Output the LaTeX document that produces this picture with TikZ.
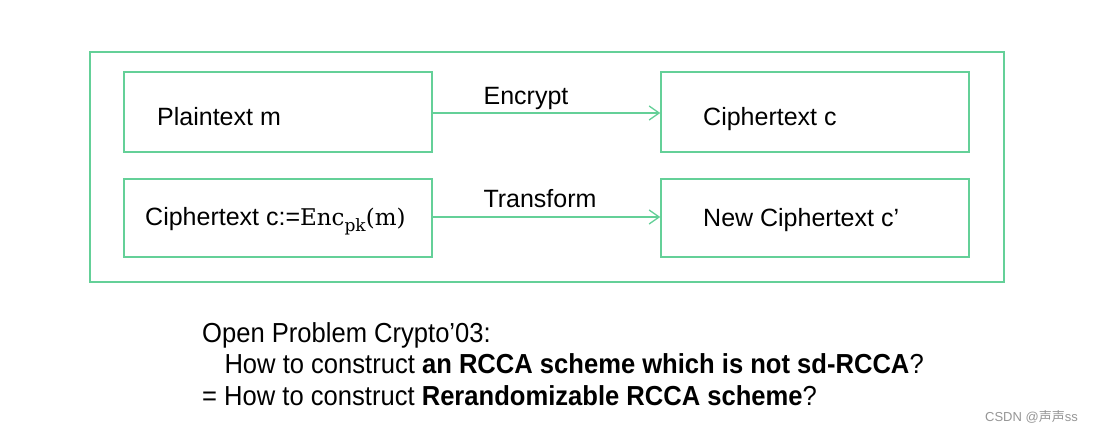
\documentclass[tikz,border=0pt]{standalone}
\usepackage{fontspec}
\setmainfont{Liberation Sans}
\newfontfamily\cjkfont{Noto Sans CJK SC}
\newfontfamily\serifenc{DejaVu Serif}
\usetikzlibrary{arrows.meta}
\definecolor{lgreen}{RGB}{100,208,152}
\definecolor{wmgray}{RGB}{150,150,150}
\tikzset{
  box/.style={draw=lgreen, line width=1.5pt, minimum width=308pt, minimum height=80pt, inner sep=0pt},
  boxtext/.style={font=\fontsize{25}{30}\selectfont, anchor=base west, inner sep=0pt},
  conn/.style={draw=lgreen, line width=1.3pt, -{Straight Barb[length=10pt,width=14pt,line width=1.3pt]}},
  lbl/.style={font=\fontsize{25}{30}\selectfont, inner sep=0pt, anchor=base}
}
\begin{document}
\begin{tikzpicture}[x=1pt,y=-1pt]
\useasboundingbox[fill=white] (0,0) rectangle (1093,434);
\node[draw=lgreen, line width=1.5pt, minimum width=914pt, minimum height=230pt, inner sep=0pt] (outer) at (547,167) {};
\node[box] (b1) at (278,112) {};
\node[box] (b2) at (815,112) {};
\node[box, minimum height=78pt] (b3) at (278,218) {};
\node[box, minimum height=78pt] (b4) at (815,218) {};
\node[boxtext] (t1) at (157,125) {Plaintext m};
\node[boxtext] (t2) at (703,125) {Ciphertext c};
\node[boxtext] (t3) at (145,225) {Ciphertext c:={\serifenc\fontsize{23}{28}\selectfont Enc\raisebox{-6pt}{\fontsize{17}{20}\selectfont pk}(m)}};
\node[boxtext] (t4) at (703,226) {New Ciphertext c’};
\draw[conn] (b1.east |- 0,113) coordinate (a1) -- (b2.west |- 0,113) coordinate (a2);
\draw[conn] (b3.east |- 0,217) coordinate (a3) -- (b4.west |- 0,217) coordinate (a4);
\node[lbl] (l1) at (526,104) {Encrypt};
\node[lbl] (l2) at (540,207) {Transform};
\node[anchor=north west, inner sep=0pt, align=left] (prob) at (202,320) {\scalebox{0.93}[1]{\fontsize{27.5}{31.5}\selectfont
\begin{tabular}{@{}l@{}}
Open Problem Crypto’03:\\
\hspace{24pt}How to construct \textbf{an RCCA scheme which is not sd-RCCA}?\\
= How to construct \textbf{Rerandomizable RCCA scheme}?
\end{tabular}}};
\node[anchor=east, inner sep=0pt, text=wmgray, font=\fontsize{13}{15}\selectfont] (wm) at (1078,417) {CSDN @{\cjkfont 声声}ss};
\end{tikzpicture}
\end{document}
